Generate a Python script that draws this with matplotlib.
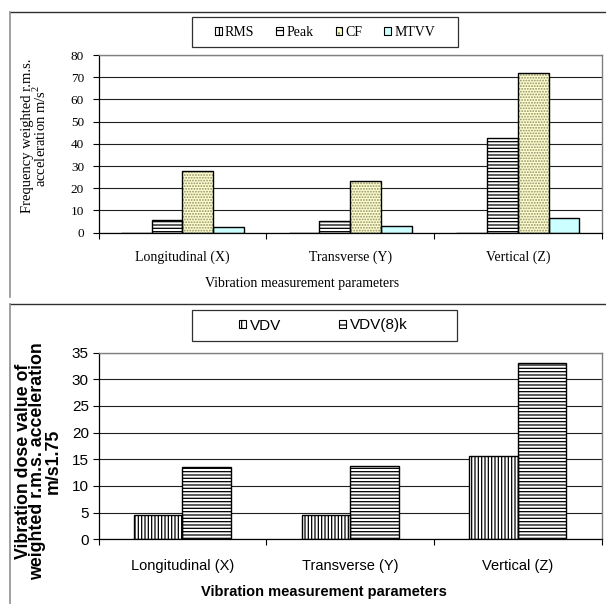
import matplotlib
matplotlib.use("Agg")
import matplotlib.pyplot as plt
from matplotlib.patches import Patch, Rectangle
from matplotlib.lines import Line2D
from matplotlib.legend_handler import HandlerTuple

# ---------------- data ----------------
categories = ["Longitudinal (X)", "Transverse (Y)", "Vertical (Z)"]

top_series = ["RMS", "Peak", "CF", "MTVV"]
rms = [0.0, 0.0, 0.0]
peak = [5.7, 5.4, 42.5]
cf = [27.8, 23.4, 71.8]
mtvv = [2.7, 3.1, 6.5]

bottom_series = ["VDV", "VDV(8)k"]
vdv = [4.6, 4.6, 15.6]
vdv8k = [13.5, 13.7, 33.0]

top_ylabel = "Frequency weighted r.m.s.\nacceleration m/s$^{\\mathregular{2}}$"
bottom_ylabel = "Vibration dose value of\nweighted r.m.s. acceleration\nm/s1.75"
xlabel_text = "Vibration measurement parameters"

# ---------------- layout ----------------
plt.rcParams['hatch.linewidth'] = 0.9
W, H = 606, 604
fig = plt.figure(figsize=(W / 100, H / 100), dpi=100)

def fx(px):
    return px / W

def fy(py):
    return 1 - py / H

SERIF = "Liberation Serif"
SANS = "Liberation Sans"

ax1 = fig.add_axes([fx(98.6), fy(232.7), (601.7 - 98.6) / W, (232.7 - 55) / H])
ax2 = fig.add_axes([fx(98.6), fy(539.3), (601.7 - 98.6) / W, (539.3 - 352.6) / H])

x = list(range(len(categories)))


def style_axes(ax, ymax, ystep, font, ytick_size, xtick_size, ypad, xpad):
    ax.set_xlim(-0.5, len(categories) - 0.5)
    ax.set_ylim(0, ymax)
    ax.set_yticks(list(range(0, ymax + 1, ystep)))
    ax.yaxis.grid(True, color='#202020', lw=0.8)
    ax.set_axisbelow(True)
    for s in ['left', 'bottom']:
        ax.spines[s].set_color('black')
        ax.spines[s].set_linewidth(0.9)
    for s in ['top', 'right']:
        ax.spines[s].set_color('#808080')
        ax.spines[s].set_linewidth(1.0)
    ax.set_xticks(x)
    ax.set_xticklabels(categories, fontfamily=font, fontsize=xtick_size)
    ax.set_xticks([-0.5, 0.5, 1.5, 2.5], minor=True)
    ax.tick_params(axis='x', which='major', length=0, pad=xpad)
    ax.tick_params(axis='x', which='minor', length=4, width=0.8, direction='out')
    ax.tick_params(axis='y', length=4, width=0.8, direction='out', pad=ypad,
                   labelsize=ytick_size)
    for t in ax.get_yticklabels():
        t.set_fontfamily(font)


style_axes(ax1, 80, 10, SERIF, 9.5, 10, 6.5, 13)
style_axes(ax2, 35, 5, SANS, 11, 10.5, 3, 14)

# ---------------- top bars ----------------
w1 = 0.183
top_vals = [rms, peak, cf, mtvv]
top_face = ['white', 'white', '#FFFFCC', '#CCFFFF']
top_hatch = ['|||||', '-----', '......', None]
top_hcol = ['black', 'black', '#8c8c70', None]
handles1 = []
for i, (vals, fc, hp, hc) in enumerate(zip(top_vals, top_face, top_hatch, top_hcol)):
    pos = [xi + (i - 1.5) * w1 for xi in x]
    ax1.bar(pos, vals, width=w1, color=fc, edgecolor='none', lw=0, zorder=2)
    parts = [Patch(facecolor=fc, edgecolor='none')]
    if hp:
        ax1.bar(pos, vals, width=w1, facecolor='none', edgecolor=hc, lw=0,
                hatch=hp, zorder=2.1)
        parts.append(Patch(facecolor='none', edgecolor=hc, lw=0, hatch=hp[:3]))
    ax1.bar(pos, vals, width=w1, facecolor='none', edgecolor='black', lw=1.0,
            zorder=2.2)
    parts.append(Patch(facecolor='none', edgecolor='black', lw=0.8))
    handles1.append(tuple(parts))

# ---------------- bottom bars ----------------
w2 = 0.29
bot_vals = [vdv, vdv8k]
bot_hatch = ['|||||', '-----']
handles2 = []
for i, (vals, hp) in enumerate(zip(bot_vals, bot_hatch)):
    pos = [xi + (i - 0.5) * w2 for xi in x]
    ax2.bar(pos, vals, width=w2, color='white', edgecolor='none', lw=0, zorder=2)
    ax2.bar(pos, vals, width=w2, facecolor='none', edgecolor='black', lw=0,
            hatch=hp, zorder=2.1)
    ax2.bar(pos, vals, width=w2, facecolor='none', edgecolor='black', lw=1.0,
            zorder=2.2)
    handles2.append((Patch(facecolor='white', edgecolor='none'),
                     Patch(facecolor='none', edgecolor='black', lw=0, hatch=hp[:3]),
                     Patch(facecolor='none', edgecolor='black', lw=0.8)))

# ---------------- legends ----------------
def legend_box(x0, y0, x1, y1):
    fig.add_artist(Rectangle((fx(x0), fy(y1)), (x1 - x0) / W, (y1 - y0) / H,
                             transform=fig.transFigure, facecolor='white',
                             edgecolor='#303030', lw=0.9, zorder=5))

legend_box(192, 17, 458, 47)
leg1 = fig.legend(handles1, top_series, loc='center',
                  bbox_to_anchor=(fx(325), fy(32)), ncol=4, frameon=False,
                  prop={'family': SERIF, 'size': 10},
                  handlelength=0.5, handleheight=0.5, handletextpad=0.2,
                  columnspacing=1.6,
                  handler_map={tuple: HandlerTuple(ndivide=1, pad=0)})
leg1.set_zorder(6)

legend_box(192, 310, 457, 341)
leg2 = fig.legend(handles2, bottom_series, loc='center',
                  bbox_to_anchor=(fx(323), fy(325.5)), ncol=2, frameon=False,
                  prop={'family': SANS, 'size': 11},
                  handlelength=0.5, handleheight=0.5, handletextpad=0.2,
                  columnspacing=3.8,
                  handler_map={tuple: HandlerTuple(ndivide=1, pad=0)})
leg2.set_zorder(6)

# ---------------- axis titles ----------------
fig.text(fx(35), fy(136), top_ylabel, rotation=90, ha='center', va='center',
         multialignment='center', fontfamily=SERIF, fontsize=10.5, linespacing=0.9)
fig.text(fx(302), fy(283), xlabel_text, ha='center', va='center',
         fontfamily=SERIF, fontsize=10)

fig.text(fx(38), fy(461), bottom_ylabel, rotation=90, ha='center', va='center',
         multialignment='center', fontfamily=SANS, fontsize=12.8, fontweight='bold',
         linespacing=0.84)
fig.text(fx(324), fy(592), xlabel_text, ha='center', va='center',
         fontfamily=SANS, fontsize=10.5, fontweight='bold')

# ---------------- panel borders ----------------
fig.add_artist(Rectangle((0, 0), fx(10), 1, transform=fig.transFigure,
                         facecolor='white', edgecolor='none', zorder=8))
fig.add_artist(Line2D([fx(10), 1], [fy(11.5), fy(11.5)], transform=fig.transFigure,
                      color='#303030', lw=1.0, zorder=9))
fig.add_artist(Line2D([fx(10), fx(10)], [fy(11.5), fy(297)], transform=fig.transFigure,
                      color='#909090', lw=1.2, zorder=9))
fig.add_artist(Line2D([fx(10), 1], [fy(304), fy(304)], transform=fig.transFigure,
                      color='#303030', lw=1.0, zorder=9))
fig.add_artist(Line2D([fx(10), fx(10)], [fy(304), 0], transform=fig.transFigure,
                      color='#909090', lw=1.2, zorder=9))

fig.savefig("out.png", dpi=100)
